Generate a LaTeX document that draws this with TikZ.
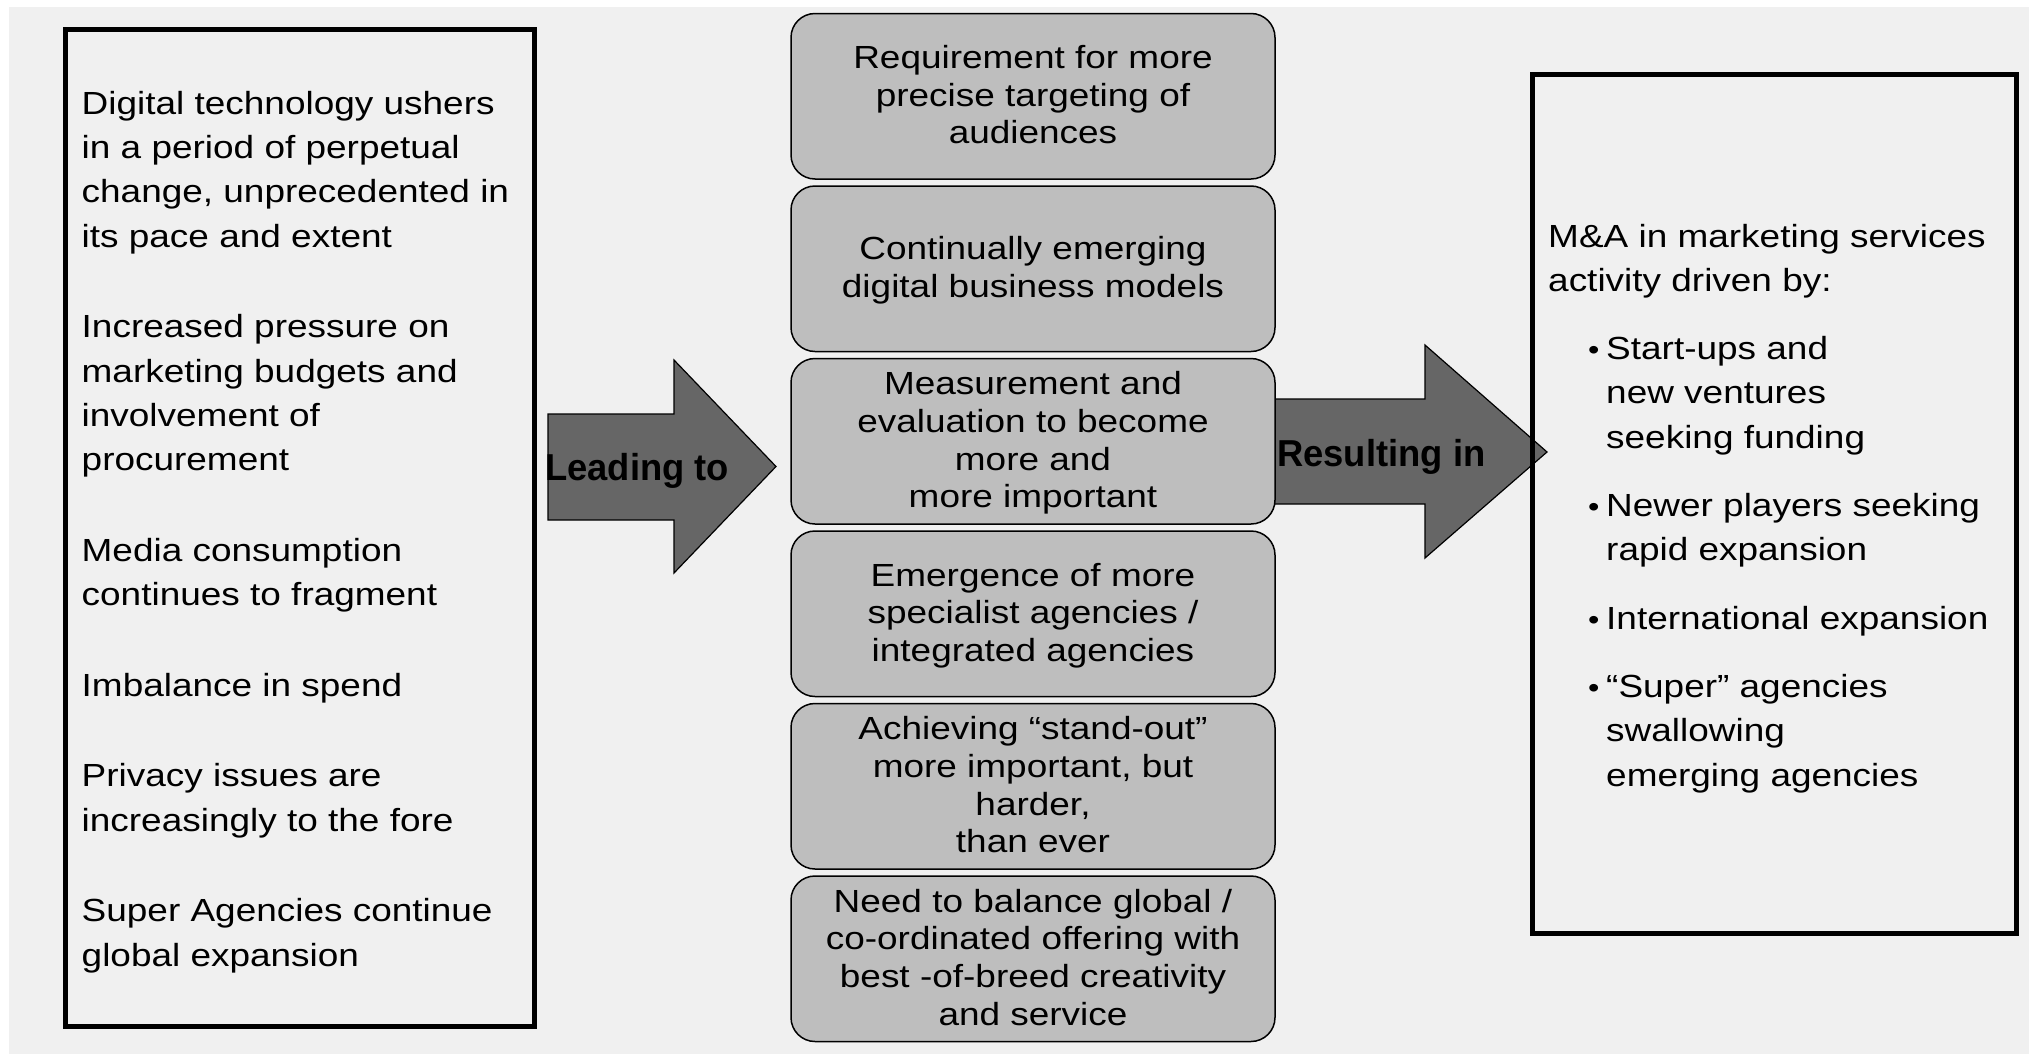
\documentclass[tikz,border=0pt]{standalone}
\usepackage{fontspec}
\setmainfont{Liberation Sans}[FakeStretch=1.155]
\newfontfamily\arrfont{Liberation Sans}[FakeStretch=0.97]
\definecolor{bgc}{HTML}{F0F0F0}
\definecolor{boxgray}{HTML}{BEBEBE}
\definecolor{arrgray}{HTML}{666666}
\newcommand\ms{\rule[-8pt]{0pt}{36pt}}
\newcommand\bul{\makebox[18pt][l]{\fontsize{28pt}{28pt}\selectfont•}}
\begin{document}
\begin{tikzpicture}[x=1pt,y=-1pt,
  outbox/.style={draw=black, line width=5pt, inner sep=0pt},
  midbox/.style={draw=black, line width=1.5pt, fill=boxgray, rounded corners=24pt,
    minimum width=484pt, minimum height=165.5pt, inner sep=0pt, align=center,
    font=\fontsize{32pt}{37.6pt}\selectfont},
  sidetext/.style={inner sep=0pt, align=left, anchor=base west,
    font=\fontsize{32pt}{44.3pt}\selectfont},
  blockarrow/.style={draw=black, line width=1.2pt, fill=arrgray, line join=miter},
  arrlabel/.style={inner sep=0pt, anchor=base west,
    font=\arrfont\bfseries\fontsize{37.5pt}{45pt}\selectfont}
]
\useasboundingbox (0,0) rectangle (2029,1055);
\fill[bgc] (9,7) rectangle (2029,1054);

% block arrows
\draw[blockarrow] (548,414) -- (674,414) -- (674,360) -- (776,466.5) -- (674,573) -- (674,520) -- (548,520) -- cycle;
\draw[blockarrow] (1268,399) -- (1425,399) -- (1425,345) -- (1547,452) -- (1425,558) -- (1425,504) -- (1268,504) -- cycle;

% left box
\node[outbox, minimum width=469pt, minimum height=997.5pt] (lb) at (299.5,527.75) {};
\node[sidetext] (lt) at (81.5,966) {Digital technology ushers\\
in a period of perpetual\\
change, unprecedented in\\
its pace and extent\\[46.3pt]
Increased pressure on\\
marketing budgets and\\
involvement of\\
procurement\\[46.3pt]
Media consumption\\
continues to fragment\\[46.3pt]
Imbalance in spend\\[46.3pt]
Privacy issues are\\
increasingly to the fore\\[46.3pt]
Super Agencies continue\\
global expansion};

% middle boxes
\node[midbox] (m1) at (1033,96.25) {\ms Requirement for more\\ precise targeting of\\ audiences\ms};
\node[midbox] (m2) at (1033,268.75) {\ms Continually emerging\\ digital business models\ms};
\node[midbox] (m3) at (1033,441.25) {\ms Measurement and\\ evaluation to become\\ more and\\ more important\ms};
\node[midbox] (m4) at (1033,613.75) {\ms Emergence of more\\ specialist agencies /\\ integrated agencies\ms};
\node[midbox] (m5) at (1033,786.25) {\ms Achieving “stand-out”\\ more important, but\\ harder,\\ than ever\ms};
\node[midbox] (m6) at (1033,958.75) {\ms Need to balance global /\\ co-ordinated offering with\\ best -of-breed creativity\\ and service\ms};

% right box
\node[outbox, minimum width=484pt, minimum height=859.5pt] (rb) at (1774.5,503.75) {};
\node[sidetext] (rt) at (1548,786) {M\&A in marketing services\\
activity driven by:\\[24pt]
\hspace*{40pt}\bul Start-ups and\\
\hspace*{58pt}new ventures\\
\hspace*{58pt}seeking funding\\[24pt]
\hspace*{40pt}\bul Newer players seeking\\
\hspace*{58pt}rapid expansion\\[24pt]
\hspace*{40pt}\bul International expansion\\[24pt]
\hspace*{40pt}\bul “Super” agencies\\
\hspace*{58pt}swallowing\\
\hspace*{58pt}emerging agencies};

% arrow labels
\node[arrlabel] (lab1) at (545,480) {Leading to};
\node[arrlabel] (lab2) at (1277,466) {Resulting in};
\end{tikzpicture}
\end{document}
